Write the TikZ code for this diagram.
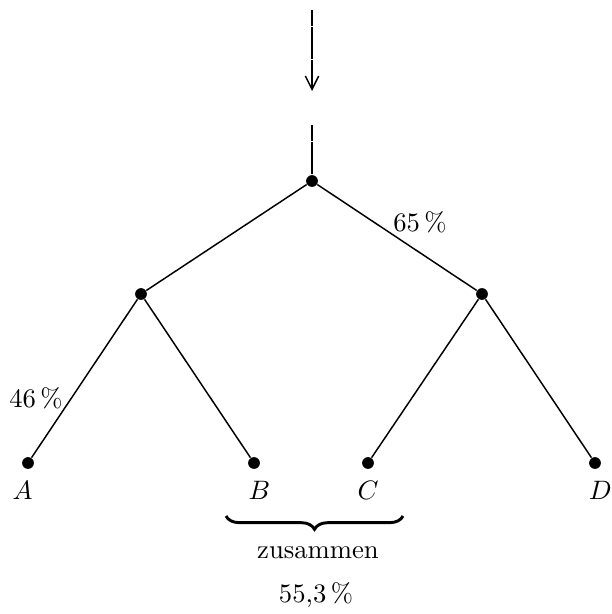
\documentclass[tikz,border=0pt]{standalone}
\usetikzlibrary{arrows.meta,positioning,decorations.pathreplacing}
\begin{document}
\begin{tikzpicture}[x=0.375pt,y=-0.375pt, node distance=1pt,
 dot/.style={circle,fill,inner sep=0pt,minimum size=4.4pt},
 edge/.style={line width=0.55pt},
 feed/.style={line width=0.55pt,dash pattern=on 6pt off 0.2pt},
 arr/.style={-{Straight Barb[length=5pt,width=5pt]}}]
\useasboundingbox (0,0) rectangle (611,614);
% incoming arrow
\coordinate (in0) at (312,10);
\coordinate (in1) at (312,91);
\coordinate (in2) at (312,125);
\node[dot] (r) at (312,181) {};
\draw[feed,arr] (in0) -- (in1);
\draw[feed] (in2) -- (r);
% tree
\node[dot] (l) at (141,294) {};
\node[dot] (rr) at (482,294) {};
\node[dot] (a) at (28,463) {};
\node[dot] (b) at (254,463) {};
\node[dot] (c) at (368,463) {};
\node[dot] (d) at (595,463) {};
\draw[edge] (r)--(l); \draw[edge] (r)--(rr);
\draw[edge] (l)--(a); \draw[edge] (l)--(b);
\draw[edge] (rr)--(c); \draw[edge] (rr)--(d);
\node[below=of a,xshift=-2pt] (la) {$A$};
\node[below=of b,xshift=2pt] (lb) {$B$};
\node[below=of c] (lc) {$C$};
\node[below=of d,xshift=2pt] (ld) {$D$};
\node (p65) at (420,222) {65\,\%};
\node (p46) at (36,398) {46\,\%};
% brace
\coordinate (bl) at (226,516);
\coordinate (br) at (403,516);
\draw[decorate,decoration={brace,mirror,amplitude=5pt},line width=1.1pt] (bl) -- (br);
\node (zus) at (318,553) {zusammen};
\node (sum) at (316,595) {55,3\,\%};
\end{tikzpicture}
\end{document}
